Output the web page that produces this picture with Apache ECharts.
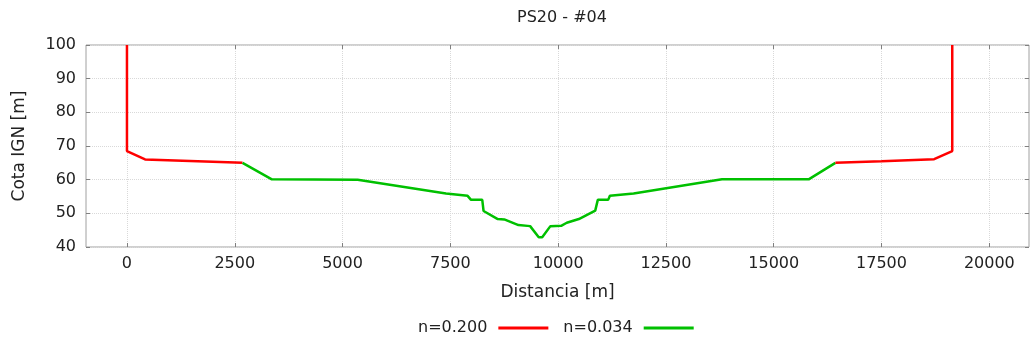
<!DOCTYPE html>
<html>
<head>
<meta charset="utf-8">
<script src="https://cdn.jsdelivr.net/npm/echarts@6/dist/echarts.min.js"></script>
<style>
  html, body { margin: 0; padding: 0; background: #fff; }
  #chart { width: 1031px; height: 344px; }
</style>
</head>
<body>
<div id="chart"></div>
<script>
// values
const title = 'PS20 - #04'
const xTicks = [0, 2500, 5000, 7500, 10000, 12500, 15000, 17500, 20000]

// n=0.200 (red), left and right banks
const redLeftDist = [0, 0, 420, 2680]
const redLeftCota = [100, 68.5, 66.0, 65.0]
const redRightDist = [16430, 17500, 18720, 19140, 19140]
const redRightCota = [65.0, 65.5, 66.1, 68.5, 100]

// n=0.034 (green), main channel
const greenDist = [2680, 3360, 5350, 7400, 7900, 7980, 8240, 8270, 8600, 8750, 9080, 9350,
    9550, 9630, 9820, 10070, 10200, 10480, 10860, 10920, 11160, 11200, 11750, 13800, 15810, 16430]
const greenCota = [65.0, 60.1, 60.0, 55.9, 55.2, 54.0, 54.0, 50.7, 48.3, 48.2, 46.5, 46.2,
    42.9, 42.9, 46.2, 46.3, 47.2, 48.3, 50.8, 54.0, 54.0, 55.2, 55.9, 60.1, 60.1, 65.0]

const zip = (xs, ys) => xs.map((x, i) => [x, ys[i]])

var chart = echarts.init(document.getElementById('chart'), null, {renderer: 'canvas'})

const font = 'DejaVu Sans'
const gridLine = {show: true, lineStyle: {color: '#d9d9d9', type: 'dotted', width: 1}}
const tick = {show: true, inside: true, length: 4, lineStyle: {color: '#808080'}}
const noLine = {show: false, onZero: false}

var option = {
    animation: false,
    textStyle: {fontFamily: font},
    title: {
        text: title,
        left: 557,
        textAlign: 'center',
        top: 5,
        textStyle: {fontSize: 16, fontWeight: 'normal', color: '#222', fontFamily: font}
    },
    legend: {
        bottom: 3,
        left: 413,
        align: 'right',
        itemWidth: 50,
        itemHeight: 3,
        itemGap: 15,
        icon: 'rect',
        data: ['n=0.200', 'n=0.034'],
        textStyle: {fontSize: 16, color: '#222', fontFamily: font, padding: [0, 6, 0, 0]}
    },
    grid: {
        left: 86, right: 2, top: 45, bottom: 97,
        show: true, borderColor: '#a0a0a0', borderWidth: 1
    },
    xAxis: [{
        type: 'value',
        min: -950,
        max: 20920,
        name: 'Distancia [m]',
        nameLocation: 'middle',
        nameGap: 37,
        nameTextStyle: {fontSize: 17, color: '#222'},
        axisLine: noLine,
        axisTick: Object.assign({customValues: xTicks}, tick),
        axisLabel: {customValues: xTicks, fontSize: 16, color: '#222', margin: 9,
            formatter: v => String(v)},
        splitLine: gridLine
    }, {
        type: 'value',
        position: 'top',
        min: -950,
        max: 20920,
        axisLine: noLine,
        axisTick: Object.assign({customValues: xTicks}, tick),
        axisLabel: {show: false},
        splitLine: {show: false}
    }],
    yAxis: [{
        type: 'value',
        position: 'left',
        min: 40,
        max: 100,
        interval: 10,
        name: 'Cota IGN [m]',
        nameLocation: 'middle',
        nameGap: 58,
        nameTextStyle: {fontSize: 17, color: '#222'},
        axisLine: noLine,
        axisTick: tick,
        axisLabel: {fontSize: 16, color: '#222', margin: 10},
        splitLine: gridLine
    }, {
        type: 'value',
        position: 'right',
        min: 40,
        max: 100,
        interval: 10,
        axisLine: noLine,
        axisTick: tick,
        axisLabel: {show: false},
        splitLine: {show: false}
    }],
    series: [{
        name: 'n=0.200',
        type: 'line',
        symbol: 'none',
        color: '#ff0000',
        lineStyle: {width: 2.5},
        data: zip(redLeftDist, redLeftCota)
    }, {
        name: 'n=0.034',
        type: 'line',
        symbol: 'none',
        color: '#00c000',
        lineStyle: {width: 2.5},
        data: zip(greenDist, greenCota)
    }, {
        name: 'n=0.200',
        type: 'line',
        symbol: 'none',
        color: '#ff0000',
        lineStyle: {width: 2.5},
        data: zip(redRightDist, redRightCota)
    }]
}

chart.setOption(option)
</script>
</body>
</html>
